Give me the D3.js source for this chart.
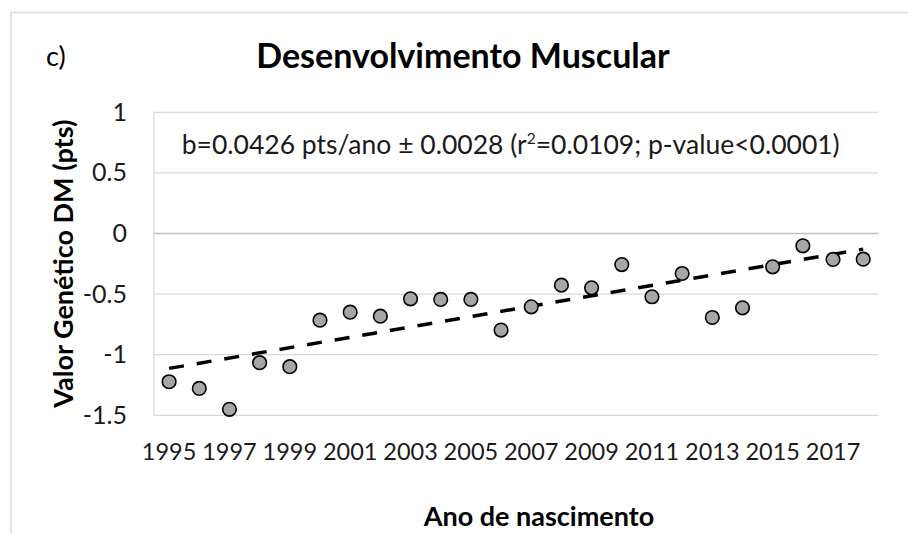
<!DOCTYPE html>
<html><head><meta charset="utf-8">
<script src="https://cdn.jsdelivr.net/npm/d3@7"></script>
<style>body{margin:0;background:#fff}svg{display:block}text{font-family:Lato,"Open Sans",sans-serif}</style>
</head><body><svg id="c" width="908" height="534"></svg>
<script>
const years = [1995,1996,1997,1998,1999,2000,2001,2002,2003,2004,2005,2006,2007,2008,2009,2010,2011,2012,2013,2014,2015,2016,2017,2018];
const values = [-1.223,-1.278,-1.451,-1.066,-1.099,-0.715,-0.649,-0.682,-0.539,-0.544,-0.544,-0.797,-0.605,-0.426,-0.448,-0.256,-0.522,-0.330,-0.693,-0.613,-0.275,-0.102,-0.214,-0.212];
const yTicks = [1,0.5,0,-0.5,-1,-1.5];
const xTickLabels = [1995,1997,1999,2001,2003,2005,2007,2009,2011,2013,2015,2017];
const trendYears = [1995,2018];
const trendValues = [-1.113,-0.129];
const title = "Desenvolvimento Muscular";
const panelLabel = "c)";
const xTitle = "Ano de nascimento";
const yTitle = "Valor Genético DM (pts)";

const svg = d3.select("#c");
svg.append("rect").attr("width",908).attr("height",534).attr("fill","#fff");
// outer chart border
svg.append("path").attr("d","M11,534 V12.5 H908").attr("fill","none").attr("stroke","#d9d9d9").attr("stroke-width",1.5);

const x = d3.scaleBand().domain(years).range([154,878.3]);
const y = d3.scaleLinear().domain([-1.5,1]).range([415.3,112.3]);

// gridlines
svg.append("g").selectAll("line").data(yTicks).join("line")
  .attr("x1",154).attr("x2",878.3)
  .attr("y1",d=>y(d)).attr("y2",d=>y(d))
  .attr("stroke",d=>d===0?"#bfbfbf":"#d9d9d9").attr("stroke-width",1.3);
// value axis line
svg.append("line").attr("x1",154).attr("x2",154).attr("y1",y(1)).attr("y2",y(-1.5))
  .attr("stroke","#d9d9d9").attr("stroke-width",1.3);

// y tick labels
const yAxis = d3.axisLeft(y).tickValues(yTicks).tickSize(0).tickPadding(27).tickFormat(d=>String(d));
const gy = svg.append("g").attr("transform","translate(154,0)").call(yAxis);
gy.select(".domain").remove();
gy.selectAll("text").attr("font-size",25).attr("fill","#1a1a1a").attr("font-family","Lato");

// x tick labels
const xAxis = d3.axisBottom(x).tickValues(xTickLabels).tickSize(0).tickPadding(0).tickFormat(d=>String(d));
const gx = svg.append("g").attr("transform","translate(0,"+(y(-1.5))+")").call(xAxis);
gx.select(".domain").remove();
gx.selectAll("text").attr("font-size",23.5).attr("fill","#1a1a1a").attr("font-family","Lato").attr("dy",null).attr("y",45);

// trend line
svg.append("path")
  .attr("d",d3.line().x(d=>x(d[0])+x.bandwidth()/2).y(d=>y(d[1]))(trendYears.map((t,i)=>[t,trendValues[i]])))
  .attr("fill","none").attr("stroke","#000").attr("stroke-width",3.5).attr("stroke-dasharray","15,13");

// points
svg.append("g").selectAll("circle").data(years).join("circle")
  .attr("cx",d=>x(d)+x.bandwidth()/2).attr("cy",(d,i)=>y(values[i])).attr("r",6.8)
  .attr("fill","#a6a6a6").attr("stroke","#000").attr("stroke-width",1.6);

// annotation
const ann = svg.append("text").attr("x",181.7).attr("y",154).attr("font-size",26.5).attr("fill","#1a1a1a");
ann.append("tspan").text("b=0.0426 pts/ano ± 0.0028 (r");
ann.append("tspan").attr("font-size",15.5).attr("dy",-10).text("2");
ann.append("tspan").attr("dy",10).text("=0.0109; p-value<0.0001)");

// title
svg.append("text").attr("x",463).attr("y",68).attr("text-anchor","middle").attr("font-size",34).attr("font-weight","bold").attr("fill","#000").text(title);
svg.append("text").attr("x",46).attr("y",66).attr("font-size",27).attr("fill","#000").text(panelLabel);
svg.append("text").attr("x",539).attr("y",526).attr("text-anchor","middle").attr("font-size",27).attr("font-weight","bold").attr("fill","#000").text(xTitle);
svg.append("text").attr("transform","translate(73,263.7) rotate(-90)").attr("text-anchor","middle").attr("font-size",27).attr("font-weight","bold").attr("fill","#000").text(yTitle);
</script></body></html>
